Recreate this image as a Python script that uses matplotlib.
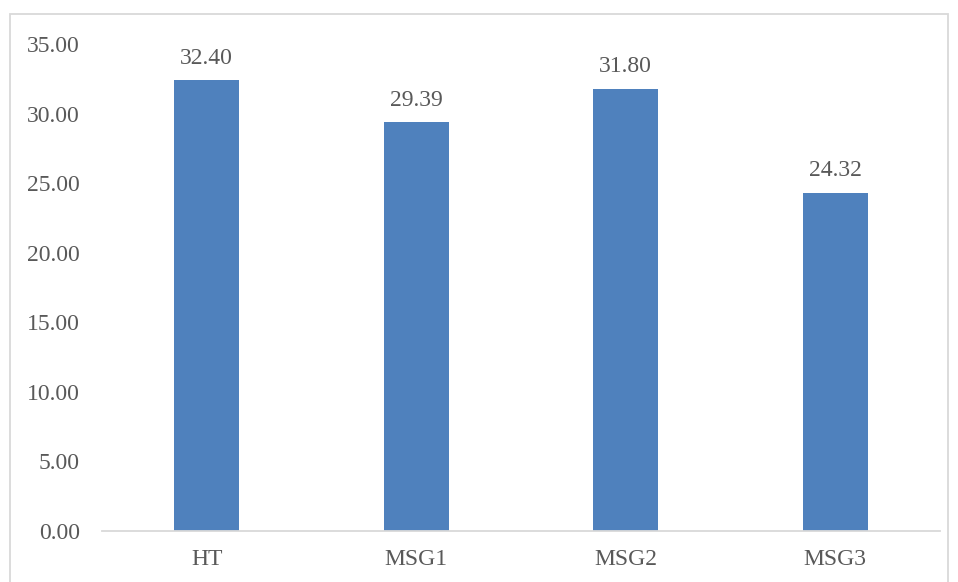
import matplotlib.pyplot as plt
from matplotlib.patches import Rectangle

categories = ['HT', 'MSG1', 'MSG2', 'MSG3']
values = [32.40, 29.39, 31.80, 24.32]
yticks = [0, 5, 10, 15, 20, 25, 30, 35]

plt.rcParams['font.family'] = ['Liberation Serif', 'DejaVu Serif']
txt = '#595959'

fig = plt.figure(figsize=(9.58, 5.82), dpi=100)
ax = fig.add_axes([102/958, 1 - 531/582, (940 - 102)/958, (531 - 44)/582])

# chart frame
fig.patches.append(Rectangle((10/958, -0.05), (948 - 10)/958, 1.05 - 14/582,
                             transform=fig.transFigure, fill=False,
                             edgecolor='#D9D9D9', linewidth=1.3))

x = range(len(categories))
bars = ax.bar(x, values, width=0.31, color='#4F81BD')
for b, v in zip(bars, values):
    ax.annotate('%.2f' % v, (b.get_x() + b.get_width()/2, v),
                xytext=(0, 8), textcoords='offset points',
                ha='center', va='bottom', fontsize=17, color=txt)

ax.set_xlim(-0.5, 3.5)
ax.set_ylim(0, 35)
ax.set_xticks(list(x))
ax.set_xticklabels(categories)
ax.set_yticks(yticks)
ax.set_yticklabels(['%.2f' % t for t in yticks])
ax.tick_params(length=0, labelsize=17, labelcolor=txt)
ax.tick_params(axis='x', pad=13)
ax.tick_params(axis='y', pad=16)
for s in ['top', 'right', 'left']:
    ax.spines[s].set_visible(False)
ax.spines['bottom'].set_color('#D9D9D9')
ax.spines['bottom'].set_linewidth(1.3)

fig.savefig('out.png', dpi=100)
